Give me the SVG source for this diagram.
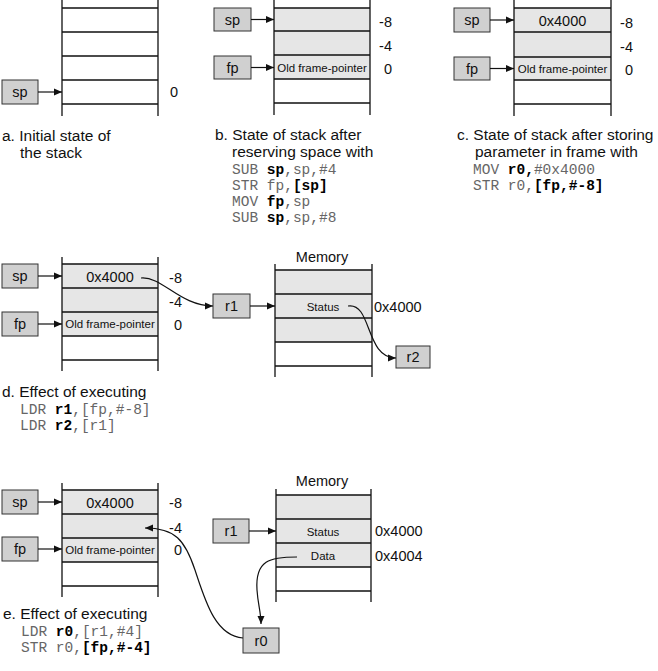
<svg xmlns="http://www.w3.org/2000/svg" width="658" height="671" viewBox="0 0 658 671">
<defs>
<marker id="ah" markerUnits="userSpaceOnUse" markerWidth="9" markerHeight="8" refX="8" refY="4" orient="auto">
<path d="M0,0.5 L8,4 L0,7.5 z" fill="#111"/>
</marker>
<style>
.ln{stroke:#111;stroke-width:1.3;fill:none}
.cell{fill:#e6e6e6;stroke:none}
.box{fill:#d0d0d0;stroke:#333;stroke-width:1}
.t{font-family:"Liberation Sans",Arial,sans-serif;font-size:14.5px;fill:#111}
.s{font-family:"Liberation Sans",Arial,sans-serif;font-size:11.5px;fill:#111}
.cap{font-family:"Liberation Sans",Arial,sans-serif;font-size:15.5px;fill:#111}
.code{font-family:"Liberation Mono","Courier New",monospace;font-size:14.5px;fill:#666;white-space:pre}
.b{font-weight:bold;fill:#000}
.m{text-anchor:middle}
.r{text-anchor:end}
.ar{stroke:#111;stroke-width:1.2;fill:none;marker-end:url(#ah)}
</style>
</defs>
<rect width="658" height="671" fill="#fff"/>

<!-- Panel a -->
<g id="stack-a">
<path class="ln" d="M62,0 V116 M158,0 V116 M62,8 H158 M62,32 H158 M62,56 H158 M62,80 H158 M62,104 H158"/>
<text class="t r" x="178" y="97">0</text>
</g>
<g id="sp-a"><rect class="box" x="2" y="80" width="36" height="24"/><text class="t m" x="20" y="97">sp</text></g>
<g id="cap-a">
<text class="cap" x="2" y="141">a. Initial state of</text>
<text class="cap" x="20" y="158">the stack</text>
</g>

<!-- Panel b -->
<g id="stack-b">
<rect class="cell" x="274" y="8" width="96" height="71"/>
<path class="ln" d="M274,0 V115 M370,0 V115 M274,8 H370 M274,31 H370 M274,55 H370 M274,79 H370 M274,103 H370"/>
<text class="s m" x="322" y="71.5">Old frame-pointer</text>
<text class="t r" x="392" y="27">-8</text>
<text class="t r" x="392" y="51">-4</text>
<text class="t r" x="392" y="74">0</text>
</g>
<g id="sp-b"><rect class="box" x="214" y="8" width="37" height="23"/><text class="t m" x="232.5" y="24.5">sp</text></g>
<g id="fp-b"><rect class="box" x="214" y="56" width="37" height="23"/><text class="t m" x="232.5" y="72.5">fp</text></g>
<g id="cap-b">
<text class="cap" x="215" y="140">b. State of stack after</text>
<text class="cap" x="232" y="157">reserving space with</text>
<text class="code" x="232" y="174">SUB <tspan class="b">sp</tspan>,sp,#4</text>
<text class="code" x="232" y="190">STR fp,<tspan class="b">[sp]</tspan></text>
<text class="code" x="232" y="206">MOV <tspan class="b">fp</tspan>,sp</text>
<text class="code" x="232" y="222">SUB <tspan class="b">sp</tspan>,sp,#8</text>
</g>

<!-- Panel c -->
<g id="stack-c">
<rect class="cell" x="514" y="8" width="97" height="72"/>
<path class="ln" d="M514,0 V116 M611,0 V116 M514,8 H611 M514,32 H611 M514,57 H611 M514,80 H611 M514,104 H611"/>
<text class="t m" x="562.5" y="25.5">0x4000</text>
<text class="s m" x="562.5" y="73">Old frame-pointer</text>
<text class="t r" x="633" y="28">-8</text>
<text class="t r" x="633" y="52">-4</text>
<text class="t r" x="633" y="75">0</text>
</g>
<g id="sp-c"><rect class="box" x="454" y="8" width="36" height="24"/><text class="t m" x="472" y="25">sp</text></g>
<g id="fp-c"><rect class="box" x="454" y="57" width="36" height="23"/><text class="t m" x="472" y="73.5">fp</text></g>
<g id="cap-c">
<text class="cap" x="457" y="140">c. State of stack after storing</text>
<text class="cap" x="475" y="157">parameter in frame with</text>
<text class="code" x="473" y="174">MOV <tspan class="b">r0,</tspan>#0x4000</text>
<text class="code" x="473" y="190">STR r0,<tspan class="b">[fp,#-8]</tspan></text>
</g>

<!-- Panel d -->
<g id="stack-d">
<rect class="cell" x="62" y="264" width="96" height="72"/>
<path class="ln" d="M62,257 V371 M158,257 V371 M62,264 H158 M62,288 H158 M62,312 H158 M62,336 H158 M62,360 H158"/>
<text class="t m" x="110" y="282">0x4000</text>
<text class="s m" x="110" y="328">Old frame-pointer</text>
<text class="t r" x="182" y="283">-8</text>
<text class="t r" x="182" y="307">-4</text>
<text class="t r" x="182" y="330">0</text>
</g>
<g id="sp-d"><rect class="box" x="2" y="264" width="36" height="24"/><text class="t m" x="20" y="281">sp</text></g>
<g id="fp-d"><rect class="box" x="2" y="312" width="36" height="24"/><text class="t m" x="20" y="329">fp</text></g>
<g id="r1-d"><rect class="box" x="213" y="294" width="37" height="24"/><text class="t m" x="231.5" y="311">r1</text></g>
<g id="mem-d">
<text class="t m" x="322" y="262">Memory</text>
<rect class="cell" x="275" y="270" width="97" height="72"/>
<path class="ln" d="M275,264 V377 M372,264 V377 M275,270 H372 M275,294 H372 M275,318 H372 M275,342 H372 M275,366 H372"/>
<text class="s m" x="323" y="311">Status</text>
<text class="t" x="374" y="312">0x4000</text>
</g>
<g id="r2-d"><rect class="box" x="396" y="346" width="34" height="22"/><text class="t m" x="413" y="362">r2</text></g>
<g id="cap-d">
<text class="cap" x="2" y="397">d. Effect of executing</text>
<text class="code" x="20" y="414">LDR <tspan class="b">r1</tspan>,[fp,#-8]</text>
<text class="code" x="20" y="430">LDR <tspan class="b">r2</tspan>,[r1]</text>
</g>

<!-- Panel e -->
<g id="stack-e">
<rect class="cell" x="62" y="490" width="96" height="72"/>
<path class="ln" d="M62,483 V597 M158,483 V597 M62,490 H158 M62,514 H158 M62,538 H158 M62,562 H158 M62,586 H158"/>
<text class="t m" x="110" y="508">0x4000</text>
<text class="s m" x="110" y="554">Old frame-pointer</text>
<text class="t r" x="182" y="508">-8</text>
<text class="t r" x="182" y="533">-4</text>
<text class="t r" x="182" y="555">0</text>
</g>
<g id="sp-e"><rect class="box" x="2" y="490" width="36" height="24"/><text class="t m" x="20" y="507">sp</text></g>
<g id="fp-e"><rect class="box" x="2" y="537" width="36" height="24"/><text class="t m" x="20" y="554">fp</text></g>
<g id="r1-e"><rect class="box" x="213" y="519" width="36" height="24"/><text class="t m" x="231" y="536">r1</text></g>
<g id="mem-e">
<text class="t m" x="322" y="486">Memory</text>
<rect class="cell" x="276" y="495" width="95" height="72"/>
<path class="ln" d="M276,489 V602 M371,489 V602 M276,495 H371 M276,519 H371 M276,543 H371 M276,567 H371 M276,591 H371"/>
<text class="s m" x="323" y="536">Status</text>
<text class="s m" x="323" y="560">Data</text>
<text class="t" x="375" y="536">0x4000</text>
<text class="t" x="375" y="561">0x4004</text>
</g>
<g id="r0-e"><rect class="box" x="243" y="628" width="36" height="25"/><text class="t m" x="261" y="645.5">r0</text></g>
<g id="cap-e">
<text class="cap" x="3" y="619">e. Effect of executing</text>
<text class="code" x="21" y="636">LDR <tspan class="b">r0</tspan>,[r1,#4]</text>
<text class="code" x="21" y="652">STR r0,<tspan class="b">[fp,#-4]</tspan></text>
</g>

<!-- Connectors -->
<g id="connectors">
<path class="ar" d="M38,92 H62"/>
<path class="ar" d="M251,19.5 H274"/>
<path class="ar" d="M251,67.5 H274"/>
<path class="ar" d="M490,20 H514"/>
<path class="ar" d="M490,68.5 H514"/>
<path class="ar" d="M38,276 H62"/>
<path class="ar" d="M38,324 H62"/>
<path class="ar" d="M141,278 C162,276 180,306 213,306"/>
<path class="ar" d="M250,306 H275"/>
<path class="ar" d="M348,306 C372,302 365,358 396,358"/>
<path class="ar" d="M38,502 H62"/>
<path class="ar" d="M38,549 H62"/>
<path class="ar" d="M249,531 H276"/>
<path class="ar" d="M297,557 C270,557 255,560 257,590 C258,605 261,612 261,624"/>
<path class="ar" d="M243,638 C215,636 205,600 195,570 C185,540 175,528 145,528"/>
</g>
</svg>
